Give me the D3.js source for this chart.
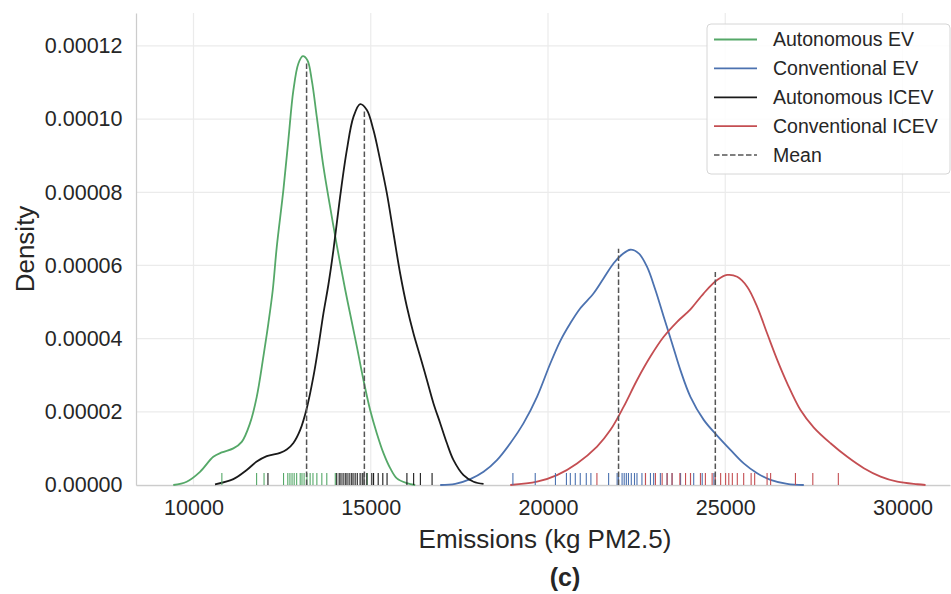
<!DOCTYPE html>
<html>
<head>
<meta charset="utf-8">
<script src="https://cdn.jsdelivr.net/npm/d3@7"></script>
<style>
body { margin: 0; background: #fff; }
text { font-family: "Liberation Sans", Arial, sans-serif; fill: #262626; }
</style>
</head>
<body>
<div id="chart"></div>
<script>
// series names, in legend order
var seriesNames = ["Autonomous EV", "Conventional EV", "Autonomous ICEV", "Conventional ICEV"];

// density curves: [emissions, density]
var autoEvCurve = [
    [9430, 0], [9808, 0.0000009], [10184, 0.0000036], [10559, 0.0000077], [10796, 0.0000089],
    [11124, 0.0000100], [11361, 0.0000118], [11595, 0.0000169], [11784, 0.0000241], [11971, 0.0000351],
    [12112, 0.0000442], [12236, 0.0000533], [12349, 0.0000651], [12535, 0.0000806], [12676, 0.0000943],
    [12818, 0.0001079], [12959, 0.0001152], [13083, 0.0001172], [13213, 0.0001161], [13337, 0.0001106],
    [13478, 0.0001006], [13665, 0.0000870], [13854, 0.0000760], [14043, 0.0000655], [14277, 0.0000535],
    [14418, 0.0000468], [14608, 0.0000378], [14794, 0.0000287], [14983, 0.0000205], [15172, 0.0000141],
    [15359, 0.0000087], [15548, 0.0000046], [15737, 0.0000018], [16019, 0.0000005], [16254, 0]
];
var convEvCurve = [
    [16960, 0], [17383, 0.0000003], [17806, 0.0000016], [18182, 0.0000036], [18560, 0.0000068],
    [18936, 0.0000114], [19311, 0.0000169], [19690, 0.0000241], [20065, 0.0000332], [20348, 0.0000394],
    [20630, 0.0000442], [20912, 0.0000483], [21288, 0.0000524], [21570, 0.0000565], [21852, 0.0000606],
    [22089, 0.0000630], [22324, 0.0000643], [22558, 0.0000633], [22795, 0.0000596], [23030, 0.0000533],
    [23264, 0.0000460], [23501, 0.0000387], [23735, 0.0000314], [24018, 0.0000241], [24393, 0.0000178],
    [24771, 0.0000135], [25147, 0.0000096], [25522, 0.0000059], [25900, 0.0000032], [26276, 0.0000014],
    [26748, 0.0000003], [27216, 0]
];
var autoIcevCurve = [
    [10607, 0.0000002], [11124, 0.0000016], [11502, 0.0000041], [11784, 0.0000064], [12067, 0.0000079],
    [12442, 0.0000088], [12631, 0.0000097], [12818, 0.0000115], [13007, 0.0000150], [13196, 0.0000210],
    [13382, 0.0000296], [13523, 0.0000378], [13665, 0.0000469], [13806, 0.0000548], [13947, 0.0000642],
    [14136, 0.0000788], [14325, 0.0000915], [14512, 0.0001006], [14701, 0.0001041], [14890, 0.0001025],
    [15076, 0.0000970], [15265, 0.0000888], [15455, 0.0000797], [15641, 0.0000688], [15830, 0.0000578],
    [16019, 0.0000487], [16206, 0.0000414], [16395, 0.0000351], [16584, 0.0000287], [16770, 0.0000223],
    [16959, 0.0000169], [17149, 0.0000114], [17335, 0.0000068], [17617, 0.0000027], [17900, 0.0000009],
    [18182, 0.0000003]
];
var convIcevCurve = [
    [18936, 0], [19690, 0.0000009], [20254, 0.0000027], [20819, 0.0000059], [21384, 0.0000105],
    [21759, 0.0000150], [22135, 0.0000214], [22513, 0.0000287], [22889, 0.0000351], [23264, 0.0000405],
    [23642, 0.0000446], [24018, 0.0000480], [24393, 0.0000524], [24771, 0.0000560], [25054, 0.0000574],
    [25336, 0.0000569], [25618, 0.0000542], [25901, 0.0000487], [26183, 0.0000414], [26466, 0.0000342],
    [26748, 0.0000278], [27123, 0.0000205], [27499, 0.0000157], [27970, 0.0000114], [28442, 0.0000077],
    [28910, 0.0000046], [29382, 0.0000023], [29853, 0.0000009], [30418, 0.0000002], [30650, 0]
];

// rug samples
var autoEvRug = [10800, 11780, 11990, 12540, 12660, 12720, 12780, 12840, 12910, 13010, 13060, 13120,
    13200, 13290, 13370, 13480, 13620, 13760, 14000, 14900];
var convEvRug = [19010, 19640, 20210, 20520, 20630, 20770, 20910, 21080, 21210, 21710, 21950, 21990,
    22090, 22150, 22210, 22270, 22350, 22440, 22510, 22650, 22750, 22890, 22980, 23170, 23360, 23500,
    23740, 24020, 24110, 24350, 24680];
var autoIcevRug = [12100, 14040, 14110, 14160, 14220, 14280, 14330, 14390, 14450, 14500, 14560, 14620,
    14700, 14760, 14810, 14890, 15030, 15080, 15210, 15340, 15460, 16020, 16210, 16400, 16730];
var convIcevRug = [21380, 22750, 23030, 23220, 23360, 23500, 23720, 23880, 24020, 24300, 24440, 24630,
    24720, 24870, 25010, 25100, 25200, 25340, 25520, 25730, 25830, 26180, 26280, 26980, 27470, 28190];

// means and the height of each mean marker
var meanValues = [13190, 21990, 14820, 24720];
var meanHeights = [0.0001157, 0.0000646, 0.0001022, 0.0000582];

// tick labels
var xTicks = [10000, 15000, 20000, 25000, 30000];
var yTicks = [0, 0.00002, 0.00004, 0.00006, 0.00008, 0.00010, 0.00012];

var curves = [autoEvCurve, convEvCurve, autoIcevCurve, convIcevCurve];
var rugs = [autoEvRug, convEvRug, autoIcevRug, convIcevRug];
var colors = ["#55a868", "#4c72b0", "#1a1a1a", "#c44e52"];

// set the dimensions and margins of the graph
var margin = {top: 13, right: 1, bottom: 109, left: 136},
    width = 951 - margin.left - margin.right,
    height = 594 - margin.top - margin.bottom;

var root = d3.select("#chart")
    .append("svg")
    .attr("width", 951)
    .attr("height", 594);

var svg = root.append("g")
    .attr("transform", "translate(" + margin.left + "," + margin.top + ")");

var x = d3.scaleLinear().domain([8378, 31340]).range([0, width]);
var y = d3.scaleLinear().domain([0, 0.000129]).range([height, 0]);

// grid
svg.append("g").selectAll("line")
    .data(xTicks).enter().append("line")
    .attr("x1", d => x(d)).attr("x2", d => x(d))
    .attr("y1", 0).attr("y2", height)
    .attr("stroke", "#ebebeb").attr("stroke-width", 1.2);
svg.append("g").selectAll("line")
    .data(yTicks).enter().append("line")
    .attr("x1", 0).attr("x2", width)
    .attr("y1", d => y(d)).attr("y2", d => y(d))
    .attr("stroke", "#ebebeb").attr("stroke-width", 1.2);

// axes
var xAxis = svg.append("g")
    .attr("transform", "translate(0," + height + ")")
    .call(d3.axisBottom(x).tickValues(xTicks).tickSize(0).tickPadding(14.5).tickFormat(d3.format("d")));
var yAxis = svg.append("g")
    .call(d3.axisLeft(y).tickValues(yTicks).tickSize(0).tickPadding(13.5).tickFormat(d3.format(".5f")));
[xAxis, yAxis].forEach(function(a) {
    a.select(".domain").attr("stroke", "#cccccc").attr("stroke-width", 1.25);
    a.selectAll("text").style("font-size", "21.5px").attr("fill", "#262626")
        .style("font-family", "'Liberation Sans', Arial, sans-serif");
});

// density lines
var line = d3.line()
    .x(d => x(d[0]))
    .y(d => y(Math.max(0, d[1])))
    .curve(d3.curveCatmullRom.alpha(0.5));

curves.forEach(function(c, i) {
    svg.append("path")
        .datum(c)
        .attr("fill", "none")
        .attr("stroke", colors[i])
        .attr("stroke-width", 1.8)
        .attr("d", line);
});

// rug marks
rugs.forEach(function(r, i) {
    svg.append("g").selectAll("line")
        .data(r).enter().append("line")
        .attr("x1", d => x(d)).attr("x2", d => x(d))
        .attr("y1", height).attr("y2", height - 12)
        .attr("stroke", colors[i])
        .attr("stroke-width", 1.1);
});

// mean lines
svg.append("g").selectAll("line")
    .data(meanValues).enter().append("line")
    .attr("x1", d => x(d)).attr("x2", d => x(d))
    .attr("y1", height).attr("y2", (d, i) => y(meanHeights[i]))
    .attr("stroke", "#555555")
    .attr("stroke-width", 1.5)
    .attr("stroke-dasharray", "5.5,2.5");

// axis labels
svg.append("text")
    .attr("x", 409).attr("y", 548 - margin.top)
    .attr("text-anchor", "middle")
    .style("font-size", "26px")
    .text("Emissions (kg PM2.5)");
root.append("text")
    .attr("transform", "translate(34," + 249 + ") rotate(-90)")
    .attr("text-anchor", "middle")
    .style("font-size", "26px")
    .text("Density");
root.append("text")
    .attr("x", 565).attr("y", 586)
    .attr("text-anchor", "middle")
    .style("font-size", "25px")
    .style("font-weight", "bold")
    .text("(c)");

// legend
var legend = root.append("g").attr("transform", "translate(707,24)");
legend.append("rect")
    .attr("width", 243).attr("height", 150)
    .attr("rx", 4)
    .attr("fill", "white").attr("fill-opacity", 0.85)
    .attr("stroke", "#d6d6d6");
var legendItems = seriesNames.map(function(n, i) { return {name: n, color: colors[i], dash: null}; });
legendItems.push({name: "Mean", color: "#555555", dash: "5.5,2.5"});
legendItems.forEach(function(it, i) {
    var yy = 15.5 + i * 28.9;
    legend.append("line")
        .attr("x1", 7).attr("x2", 50)
        .attr("y1", yy).attr("y2", yy)
        .attr("stroke", it.color)
        .attr("stroke-width", it.dash ? 1.5 : 1.8)
        .attr("stroke-dasharray", it.dash);
    legend.append("text")
        .attr("x", 66).attr("y", yy)
        .attr("dy", "0.35em")
        .style("font-size", "19.5px")
        .text(it.name);
});
</script>
</body>
</html>
